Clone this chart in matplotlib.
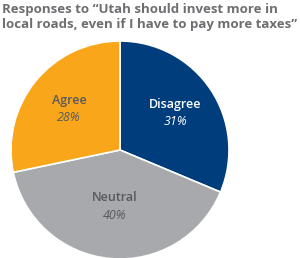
import numpy as np
import matplotlib.pyplot as plt

categories = ["Disagree", "Neutral", "Agree"]
percents = [31, 40, 28]
colors = ["#003d7c", "#a7a9ac", "#f9a61a"]
label_colors = ["white", "#58595b", "#58595b"]
label_radius = [0.61, 0.52, 0.60]

title = "Responses to \u201cUtah should invest more in\nlocal roads, even if I have to pay more taxes\u201d"

plt.rcParams['font.family'] = ['Open Sans', 'DejaVu Sans']

fig = plt.figure(figsize=(3.0, 2.58), dpi=100)
fig.text(0.005, 0.988, title, ha='left', va='top', fontsize=9.5,
         fontweight='bold', color='#6d6e71', linespacing=1.22)

# pie centre at (120,150) px, radius ~109 px
ax = fig.add_axes([(120 - 109) / 300, (258 - 259) / 258, 218 / 300, 218 / 258])
wedges, _ = ax.pie(percents, colors=colors, startangle=90, counterclock=False,
                   wedgeprops=dict(edgecolor='white', linewidth=1.2))
ax.set_xlim(-1, 1)
ax.set_ylim(-1, 1)
ax.set_aspect('equal')

for w, cat, pct, tc, r in zip(wedges, categories, percents, label_colors, label_radius):
    mid = np.deg2rad((w.theta1 + w.theta2) / 2)
    x, y = r * np.cos(mid), r * np.sin(mid)
    ax.text(x, y + 0.02, cat, ha='center', va='bottom', fontsize=9,
            fontweight='semibold', color=tc)
    ax.text(x, y - 0.02, f"{pct}%", ha='center', va='top', fontsize=9,
            style='italic', color=tc)

fig.savefig('out.png', dpi=100)
